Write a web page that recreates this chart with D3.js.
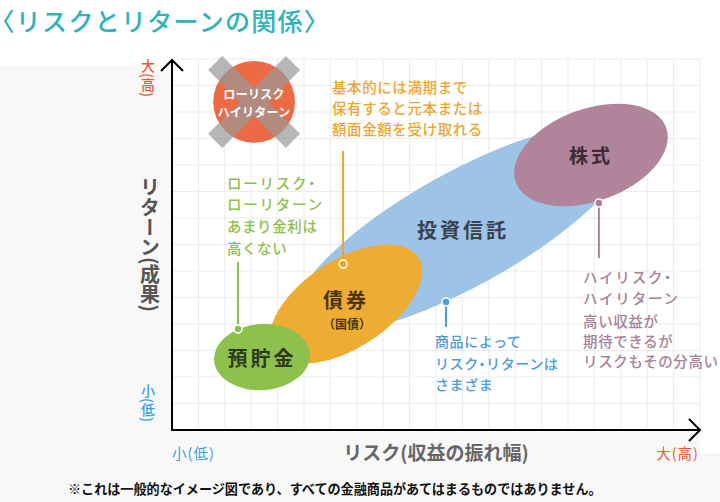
<!DOCTYPE html>
<html><head><meta charset="utf-8">
<script src="https://cdn.jsdelivr.net/npm/d3@7"></script>
<style>
html,body{margin:0;padding:0;background:#fff;}
svg{display:block;font-family:"Noto Sans CJK JP","Noto Sans",sans-serif;}
.halt{font-feature-settings:"halt" 1;}
</style></head>
<body><svg id="c" width="720" height="502"></svg>
<script>
// ---- data ----
const title = "〈リスクとリターンの関係〉";
const riskTicks = d3.range(0, 21);          // grid columns (risk units)
const returnTicks = d3.range(0, 15);        // grid rows (return units)
const products = ["投資信託", "債券", "預貯金", "株式"];
const productRisk = [11.02, 6.59, 3.41, 15.87];     // centre on risk axis
const productReturn = [7.58, 4.75, 2.75, 10.38];    // centre on return axis
const productSpreadA = [7.2, 3.26, 1.82, 3.03];     // half spread along main axis
const productSpreadB = [2.15, 1.66, 1.25, 1.74];    // half spread across
const productTilt = [-29, -33, -4, -20];
const productSub = ["", "（国債）", "", ""];
const badRisk = 3.11, badReturn = 12.38, badSpread = 1.55;
const badLines = ["ローリスク", "ハイリターン"];
const notes = [
  {lines:["基本的には満期まで","保有すると元本または","額面金額を受け取れる"], dot:[6.48,6.26], end:10.53, text:[6.06,12.99]},
  {lines:["ローリスク・","ローリターン","あまり金利は","高くない"], dot:[2.5,3.81], end:6.34, text:[2.08,9.36]},
  {lines:["商品によって","リスク・リターンは","さまざま"], dot:[10.38,4.83], end:3.89, text:[9.96,3.36]},
  {lines:["ハイリスク・","ハイリターン","高い収益が","期待できるが","リスクもその分高い"], dot:[16.17,8.57], end:6.49, text:[15.57,5.83]}
];
const yLabel = "リターン(成果)", xLabel = "リスク(収益の振れ幅)";
const lowLabel = "小(低)", highLabel = "大(高)";
const footnote = "※これは一般的なイメージ図であり、すべての金融商品があてはまるものではありません。";

// ---- styles ----
const fills = ["#9dc3e7", "#efac32", "#8dc04c", "#b0859b"];
const inkCols = ["#3a414c", "#4a3712", "#2f3a1c", "#3d2a36"];
const noteCols = ["#eca630", "#8dc04c", "#4d9bd8", "#a98199"];
const noteSizes = [[14.5,14.5,14.5],[14.5,14.5,14.5,14.5],[14,14,14],[14.5,14.5,14.5,14.5,14.5]];
const noteSpacing = [[0.6,0.6,0.6],[1.8,1.8,0.6,0.6],[0.6,0.6,0.6],[1.8,1.8,0.6,0.6,0.6]];
const noteGap = [[0,21,21],[0,21,22,22],[0,22,21],[0,21,23,20,20]];

const svg = d3.select("#c");
const x = d3.scaleLinear().domain([0, 20]).range([172, 700]);
const y = d3.scaleLinear().domain([0, 14]).range([430, 59]);
const ux = x(1) - x(0), uy = y(0) - y(1);

// backgrounds
svg.append("rect").attr("x",0).attr("y",65).attr("width",700).attr("height",390).attr("fill","#f8f8f8");
svg.append("rect").attr("x",0).attr("y",453).attr("width",720).attr("height",49).attr("fill","#f8f8f8");
svg.append("rect").attr("x",x(0)).attr("y",y(14)).attr("width",x(20)-x(0)).attr("height",y(0)-y(14)).attr("fill","#fff");

// grid
const g = svg.append("g");
g.selectAll(".gv").data(riskTicks.slice(1)).join("line")
  .attr("x1",d=>x(d)).attr("x2",d=>x(d)).attr("y1",y(0)).attr("y2",y(14))
  .attr("stroke","#ebebeb").attr("stroke-width",1);
g.selectAll(".gh").data(returnTicks.slice(1)).join("line")
  .attr("y1",d=>y(d)).attr("y2",d=>y(d)).attr("x1",x(0)).attr("x2",x(20))
  .attr("stroke","#ebebeb").attr("stroke-width",1);

// title
svg.append("text").attr("class","halt").attr("x",2).attr("y",20).attr("dominant-baseline","central")
  .attr("font-size",25).attr("font-weight",500).attr("letter-spacing",1.3).attr("fill","#2db3b8").text(title);

// product ellipses
const order = [0,1,2,3];
svg.selectAll(".prod").data(order).join("ellipse")
  .attr("cx",i=>x(productRisk[i])).attr("cy",i=>y(productReturn[i]))
  .attr("rx",i=>productSpreadA[i]*ux).attr("ry",i=>productSpreadB[i]*uy)
  .attr("transform",i=>`rotate(${productTilt[i]} ${x(productRisk[i])} ${y(productReturn[i])})`)
  .attr("fill",i=>fills[i]);

// product labels
const labOff = [[0,0],[0,-5],[0,0],[0,0]];
svg.selectAll(".plab").data(order).join("text")
  .attr("x",i=>x(productRisk[i])+labOff[i][0]).attr("y",i=>y(productReturn[i])+labOff[i][1])
  .attr("text-anchor","middle").attr("dominant-baseline","central")
  .attr("font-size",i=>i===3?19:20).attr("font-weight",700).attr("letter-spacing",3)
  .attr("fill",i=>inkCols[i]).text(i=>products[i]);
svg.append("text").attr("x",x(productRisk[1])+1).attr("y",y(productReturn[1])+19)
  .attr("text-anchor","middle").attr("dominant-baseline","central")
  .attr("font-size",12).attr("font-weight",700).attr("fill",inkCols[1]).text(productSub[1]);

// "bad" circle with cross
svg.append("circle").attr("cx",x(badRisk)).attr("cy",y(badReturn)).attr("r",badSpread*ux).attr("fill","#ec6a44");
const cg = svg.append("g").attr("opacity",0.7)
  .attr("transform",`translate(${x(badRisk)},${y(badReturn)})`);
[45,-45].forEach(a=>{
  cg.append("rect").attr("x",-55).attr("y",-10).attr("width",110).attr("height",20)
    .attr("fill","#999").attr("transform",`rotate(${a})`);
});
const bt = svg.append("text").attr("text-anchor","middle").attr("dominant-baseline","central")
  .attr("font-size",12).attr("font-weight",700).attr("letter-spacing",0.3).attr("fill","#fff");
bt.selectAll("tspan").data(badLines).join("tspan")
  .attr("x",x(badRisk)).attr("y",(d,i)=>y(badReturn)-9+i*17.6).text(d=>d);

// annotations
notes.forEach((n,k)=>{
  svg.append("line").attr("x1",x(n.dot[0])).attr("x2",x(n.dot[0]))
    .attr("y1",y(n.dot[1])).attr("y2",y(n.end)).attr("stroke",noteCols[k]).attr("stroke-width",2);
  svg.append("circle").attr("cx",x(n.dot[0])).attr("cy",y(n.dot[1])).attr("r",4)
    .attr("fill",noteCols[k]).attr("stroke","#fff").attr("stroke-width",1.5);
  const t = svg.append("text").attr("class","halt").attr("x",x(n.text[0])).attr("y",y(n.text[1]))
    .attr("dominant-baseline","central").attr("font-weight",500)
    .attr("fill",noteCols[k]);
  t.selectAll("tspan").data(n.lines).join("tspan")
    .attr("x",x(n.text[0])).attr("dy",(d,i)=>noteGap[k][i])
    .attr("letter-spacing",(d,i)=>noteSpacing[k][i])
    .attr("font-size",(d,i)=>noteSizes[k][i]).text(d=>d);
});

// axes
svg.append("line").attr("x1",x(0)).attr("x2",x(0)).attr("y1",y(0)+1).attr("y2",y(14)+1)
  .attr("stroke","#000").attr("stroke-width",2);
svg.append("line").attr("x1",x(0)-1).attr("x2",x(20)-1).attr("y1",y(0)).attr("y2",y(0))
  .attr("stroke","#000").attr("stroke-width",2);
svg.append("path").attr("d",`M${x(0)-11},${y(14)+12}L${x(0)},${y(14)+1}L${x(0)+11},${y(14)+12}`)
  .attr("fill","none").attr("stroke","#000").attr("stroke-width",2);
svg.append("path").attr("d",`M${x(20)-11},${y(0)-11}L${x(20)},${y(0)}L${x(20)-11},${y(0)+11}`)
  .attr("fill","none").attr("stroke","#000").attr("stroke-width",2);

// axis labels
function vtext(tx,ty,str,size,col,weight){
  svg.append("text").attr("x",tx).attr("y",ty).attr("writing-mode","vertical-rl")
    .attr("font-size",size).attr("font-weight",weight).attr("fill",col).text(str);
}
vtext(148,59,highLabel,14,"#ec5a34",500);
vtext(150,177,yLabel,20,"#555",700);
vtext(148,384,lowLabel,14,"#3aa0dd",500);

svg.append("text").attr("x",172).attr("y",452).attr("dominant-baseline","central")
  .attr("font-size",14.5).attr("letter-spacing",1).attr("fill","#3aa0dd").text(lowLabel);
svg.append("text").attr("x",436).attr("y",451).attr("dominant-baseline","central").attr("text-anchor","middle")
  .attr("font-size",19).attr("font-weight",700).attr("fill","#666").text(xLabel);
svg.append("text").attr("x",699).attr("y",452).attr("dominant-baseline","central").attr("text-anchor","end")
  .attr("font-size",14.5).attr("letter-spacing",1).attr("fill","#ec5a34").text(highLabel);

svg.append("text").attr("x",68).attr("y",488).attr("dominant-baseline","central")
  .attr("font-size",13.1).attr("font-weight",700).attr("fill","#111").text(footnote);
</script></body></html>
